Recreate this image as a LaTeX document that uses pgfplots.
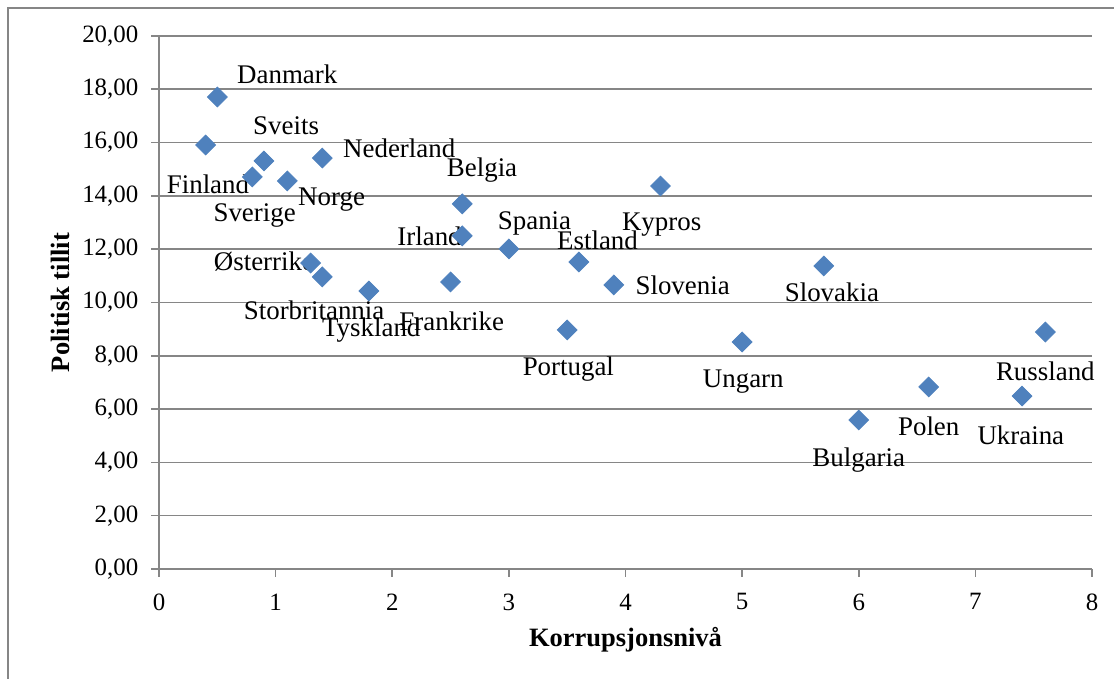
\documentclass[border=0pt]{standalone}
\usepackage{pgfplots}
\pgfplotsset{compat=1.18}
\usepackage{fontspec}
\setmainfont{Liberation Serif}
\definecolor{mk}{HTML}{4F81BD}
\definecolor{gr}{HTML}{868686}
\begin{document}
\fontsize{12.5}{15}\selectfont
\begin{tikzpicture}[x=0.5bp,y=0.5bp]
\useasboundingbox (0,0) rectangle (1114,679);
\draw[gr, line width=1bp] (8,0) -- (8,671) -- (1114,671);
\begin{axis}[
  at={(79.5bp,55bp)}, anchor=south west,
  scale only axis, width=466.5bp, height=266.5bp,
  xmin=0, xmax=8, ymin=0, ymax=20,
  xtick={0,...,8}, ytick={0,2,...,20},
  axis x line=bottom, axis y line=left,
  axis line style={gr, line width=0.8bp, -},
  tick align=outside, major tick length=4bp,
  tick style={gr, line width=0.8bp},
  ymajorgrids, grid style={gr, line width=0.8bp},
  /pgf/number format/assume math mode=true,
  yticklabel style={xshift=-2bp, /pgf/number format/fixed, /pgf/number format/fixed zerofill, /pgf/number format/precision=2, /pgf/number format/use comma},
  xticklabel style={yshift=-4bp},
  xlabel={\textbf{Korrupsjonsnivå}},
  ylabel={\textbf{Politisk tillit}},
  label style={font=\fontsize{13.3}{16}\selectfont},
  xlabel style={at={(axis description cs:0.5,-0.1332)}, anchor=center},
  ylabel style={at={(axis description cs:-0.1061,0.5)}, anchor=center},
  clip=false,
  nodes near coords style={font=\fontsize{13.5}{16}\selectfont},
]
\addplot[only marks, mark=square*, mark size=3.5bp, mark options={rotate=45, fill=mk, draw=mk}] coordinates {
(0.5,17.71) (0.4,15.91) (0.9,15.31) (0.8,14.71) (1.1,14.56) (1.4,15.42)
(1.3,11.48) (1.4,10.96) (1.8,10.43) (2.5,10.77) (2.6,13.70) (2.6,12.50)
(3.0,12.01) (3.6,11.52) (3.9,10.66) (3.5,8.97) (4.3,14.37) (5.0,8.52)
(5.7,11.37) (6.0,5.59) (6.6,6.83) (7.4,6.49) (7.6,8.89)
};
\begin{scope}[every node/.style={font=\fontsize{13.5}{16}\selectfont}]
\node at (axis cs:1.10,18.57) {Danmark};
\node at (axis cs:1.09,16.62) {Sveits};
\node at (axis cs:2.06,15.80) {Nederland};
\node at (axis cs:0.42,14.45) {Finland};
\node at (axis cs:0.82,13.25) {Sverige};
\node at (axis cs:1.48,13.85) {Norge};
\node at (axis cs:2.77,14.97) {Belgia};
\node at (axis cs:2.32,12.50) {Irland};
\node at (axis cs:3.22,12.98) {Spania};
\node at (axis cs:3.76,12.35) {Estland};
\node at (axis cs:4.31,12.91) {Kypros};
\node at (axis cs:4.49,10.66) {Slovenia};
\node at (axis cs:0.90,11.52) {Østerrike};
\node at (axis cs:1.33,9.72) {Storbritannia};
\node at (axis cs:1.82,8.97) {Tyskland};
\node at (axis cs:2.51,9.31) {Frankrike};
\node at (axis cs:3.51,7.50) {Portugal};
\node at (axis cs:5.01,7.02) {Ungarn};
\node at (axis cs:5.77,10.39) {Slovakia};
\node at (axis cs:6.00,4.09) {Bulgaria};
\node at (axis cs:6.60,5.37) {Polen};
\node at (axis cs:7.39,5.03) {Ukraina};
\node at (axis cs:7.60,7.43) {Russland};
\end{scope}
\end{axis}
\end{tikzpicture}
\end{document}
